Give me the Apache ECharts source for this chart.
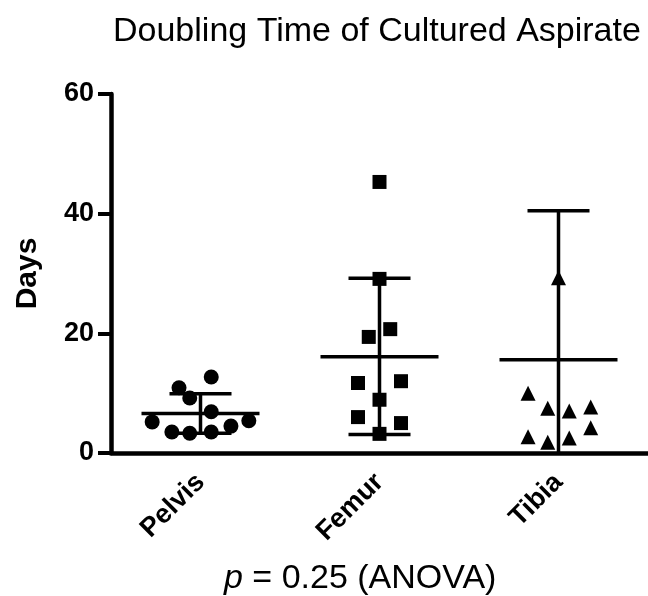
<!DOCTYPE html>
<html lang="en">

<head>
    <meta charset="UTF-8">
    <title>Doubling Time of Cultured Aspirate</title>
    <style>
        html, body { margin: 0; padding: 0; background: #fff; }
        #chart { width: 648px; height: 596px; }
    </style>
</head>

<body>
    <div id="chart"></div>
</body>
<script src="https://cdn.jsdelivr.net/npm/echarts@6/dist/echarts.min.js"></script>
<script>
    // data
    var categories = ['Pelvis', 'Femur', 'Tibia'];
    var yTicks = [0, 20, 40, 60];

    var pelvisDays = [5.2, 10.9, 12.7, 9.2, 6.9, 3.5, 3.3, 3.5, 4.5, 5.4];
    var pelvisJitter = [-0.27, -0.12, 0.06, -0.06, 0.06, -0.16, -0.06, 0.06, 0.17, 0.27];

    var femurDays = [45.3, 29.1, 19.4, 20.7, 11.7, 12.0, 8.9, 6.0, 5.0, 3.2];
    var femurJitter = [0, 0, -0.06, 0.06, -0.12, 0.12, 0, -0.12, 0.12, 0];

    var tibiaDays = [29.3, 10.0, 7.5, 7.0, 7.7, 4.2, 2.7, 1.8, 2.5];
    var tibiaJitter = [0, -0.17, -0.06, 0.06, 0.18, 0.18, -0.17, -0.06, 0.06];

    // mean, lower, upper (mean +/- SD)
    var means = [6.6, 16.1, 15.6];
    var lowers = [3.3, 3.1, -9.3];
    var uppers = [9.9, 29.2, 40.5];

    var FONT = "'Liberation Sans', Arial, sans-serif";

    function points(idx, values, jitter) {
        return values.map(function (v, i) { return [idx + jitter[i], v]; });
    }

    var errData = categories.map(function (c, i) {
        return [i, means[i], lowers[i], uppers[i]];
    });

    function renderErr(params, api) {
        var x = api.value(0);
        var mid = api.coord([x, api.value(1)]);
        var lo = api.coord([x, Math.max(api.value(2), 0)]);
        var hi = api.coord([x, api.value(3)]);
        var loRaw = api.value(2);
        var style = { stroke: '#000', lineWidth: 3.5 };
        var children = [
            { type: 'line', shape: { x1: mid[0] - 59, y1: mid[1], x2: mid[0] + 59, y2: mid[1] }, style: style },
            { type: 'line', shape: { x1: hi[0], y1: hi[1], x2: lo[0], y2: lo[1] }, style: style },
            { type: 'line', shape: { x1: hi[0] - 31, y1: hi[1], x2: hi[0] + 31, y2: hi[1] }, style: style }
        ];
        if (loRaw >= 0) {
            children.push({ type: 'line', shape: { x1: lo[0] - 31, y1: lo[1], x2: lo[0] + 31, y2: lo[1] }, style: style });
        }
        return { type: 'group', children: children };
    }

    var myChart = echarts.init(document.getElementById('chart'));
    var option = {
        animation: false,
        title: [{
            text: 'Doubling Time of Cultured Aspirate',
            left: 108,
            top: 10,
            textStyle: { fontFamily: FONT, fontSize: 34, fontWeight: 'normal', color: '#000' }
        }, {
            text: '{i|p} = 0.25 (ANOVA)',
            left: 219,
            top: 557,
            textStyle: {
                fontFamily: FONT, fontSize: 34, fontWeight: 'normal', color: '#000',
                rich: { i: { fontFamily: FONT, fontSize: 34, fontStyle: 'italic', color: '#000' } }
            }
        }],
        grid: { left: 111, right: 0, top: 94, bottom: 143, containLabel: false },
        xAxis: [{
            type: 'category',
            data: categories,
            boundaryGap: true,
            axisLine: { lineStyle: { color: '#000', width: 4.5 } },
            axisTick: { alignWithLabel: true, length: 12, lineStyle: { color: '#000', width: 4 } },
            axisLabel: {
                rotate: 45, margin: 25, color: '#000',
                fontFamily: FONT, fontSize: 27, fontWeight: 'bold'
            },
            splitLine: { show: false }
        }, {
            type: 'value',
            min: -0.5,
            max: 2.5,
            show: false
        }],
        yAxis: {
            type: 'value',
            min: yTicks[0],
            max: yTicks[yTicks.length - 1],
            interval: yTicks[1] - yTicks[0],
            name: 'Days',
            nameLocation: 'middle',
            nameRotate: 90,
            nameGap: 68,
            nameTextStyle: { fontFamily: FONT, fontSize: 30, fontWeight: 'bold', color: '#000' },
            axisLine: { show: true, onZero: false, lineStyle: { color: '#000', width: 4.5 } },
            axisTick: { show: true, length: 13, lineStyle: { color: '#000', width: 4 } },
            axisLabel: { margin: 17, color: '#000', fontFamily: FONT, fontSize: 27, fontWeight: 'bold' },
            splitLine: { show: false }
        },
        series: [{
            type: 'custom',
            xAxisIndex: 1,
            renderItem: renderErr,
            data: errData,
            z: 1
        }, {
            name: 'Pelvis',
            type: 'scatter',
            xAxisIndex: 1,
            symbol: 'circle',
            symbolSize: 15,
            itemStyle: { color: '#000', opacity: 1 },
            data: points(0, pelvisDays, pelvisJitter),
            z: 3
        }, {
            name: 'Femur',
            type: 'scatter',
            xAxisIndex: 1,
            symbol: 'rect',
            symbolSize: 14,
            itemStyle: { color: '#000', opacity: 1 },
            data: points(1, femurDays, femurJitter),
            z: 3
        }, {
            name: 'Tibia',
            type: 'scatter',
            xAxisIndex: 1,
            symbol: 'triangle',
            symbolSize: 15,
            itemStyle: { color: '#000', opacity: 1 },
            data: points(2, tibiaDays, tibiaJitter),
            z: 3
        }]
    };
    myChart.setOption(option);
</script>

</html>
